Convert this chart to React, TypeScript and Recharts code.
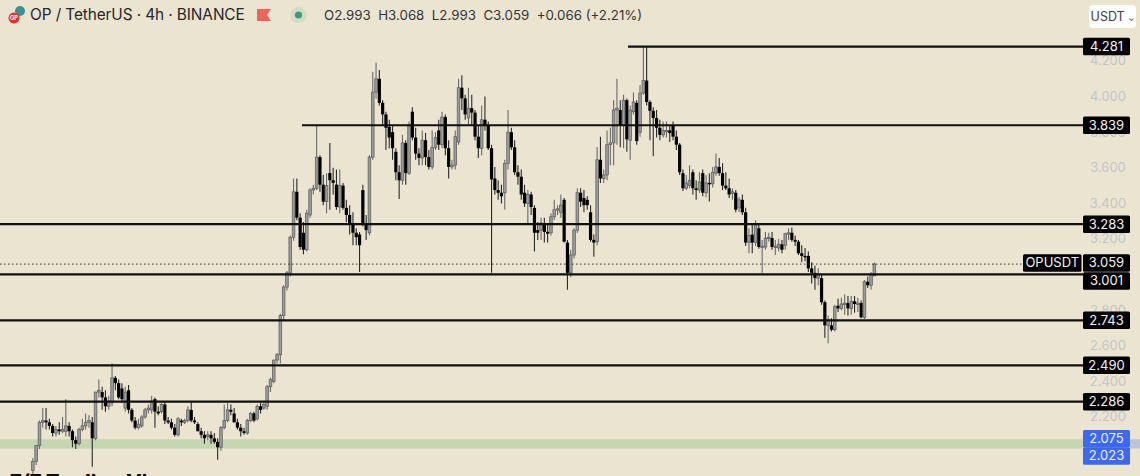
import React from "react";
import { ComposedChart, Bar, XAxis, YAxis, ReferenceLine, ReferenceArea, ReferenceDot } from "recharts";

type Row = [number, number, number, number];

// OHLC candles: [open, high, low, close]
const legBase: Row[] = [
  [1.90,1.97,1.87,1.95],[1.95,2.04,1.93,2.04],[2.04,2.18,2.02,2.17],[2.17,2.25,2.14,2.18],[2.18,2.25,2.13,2.17],
  [2.17,2.19,2.13,2.15],[2.15,2.16,2.09,2.11],[2.11,2.15,2.09,2.13],[2.13,2.17,2.10,2.12],[2.12,2.20,2.11,2.13],
  [2.12,2.30,2.09,2.15],[2.15,2.17,2.09,2.12],[2.12,2.13,2.03,2.07],[2.07,2.09,2.02,2.05],[2.05,2.14,2.04,2.13],
  [2.13,2.19,2.12,2.15],[2.15,2.22,2.13,2.17],[2.17,2.21,2.14,2.18],[2.17,2.20,1.92,2.08],[2.08,2.34,2.07,2.34],
  [2.34,2.41,2.31,2.35],[2.34,2.37,2.24,2.31],[2.31,2.35,2.23,2.26],[2.26,2.32,2.24,2.29],[2.28,2.50,2.26,2.42],
  [2.42,2.43,2.35,2.39],[2.39,2.41,2.30,2.31],[2.36,2.39,2.28,2.30],[2.25,2.37,2.23,2.34],[2.35,2.38,2.22,2.24],
  [2.24,2.25,2.17,2.18],[2.18,2.20,2.13,2.14],[2.14,2.19,2.13,2.16],[2.15,2.21,2.14,2.20],[2.20,2.25,2.19,2.24],
  [2.24,2.27,2.22,2.25],[2.24,2.32,2.22,2.29],[2.30,2.31,2.14,2.23],[2.23,2.26,2.21,2.22],[2.23,2.28,2.22,2.27],
  [2.27,2.29,2.16,2.18],[2.18,2.20,2.16,2.17],[2.17,2.19,2.13,2.14],[2.14,2.16,2.09,2.10],[2.10,2.20,2.09,2.19],
  [2.18,2.19,2.15,2.17],[2.17,2.19,2.16,2.18],[2.18,2.26,2.17,2.24],[2.24,2.29,2.17,2.18],[2.18,2.20,2.16,2.17],
  [2.16,2.17,2.12,2.12],[2.12,2.14,2.08,2.10],[2.10,2.12,2.05,2.08],[2.09,2.12,2.07,2.10],[2.10,2.12,2.05,2.08],
  [2.08,2.11,2.05,2.06],[2.06,2.08,1.96,2.03],[2.03,2.15,2.01,2.14],[2.14,2.27,2.13,2.18],[2.18,2.28,2.17,2.24],
  [2.24,2.27,2.21,2.23],[2.22,2.25,2.17,2.17],[2.17,2.19,2.13,2.14],[2.14,2.16,2.09,2.12],[2.12,2.14,2.10,2.11],
  [2.11,2.19,2.10,2.18],[2.18,2.23,2.17,2.22],[2.22,2.23,2.17,2.18],[2.19,2.27,2.18,2.26],[2.26,2.28,2.22,2.24],
  [2.25,2.29,2.24,2.27],
];
const legRally: Row[] = [
  [2.26,2.38,2.24,2.37],[2.37,2.42,2.34,2.41],[2.40,2.52,2.39,2.52],[2.52,2.56,2.50,2.55],[2.55,2.78,2.50,2.77],
  [2.77,2.94,2.74,2.93],[2.93,3.02,2.91,3.01],[3.01,3.22,2.99,3.21],[3.21,3.54,3.19,3.465],[3.465,3.54,3.305,3.32],
  [3.32,3.345,3.14,3.155],[3.235,3.295,3.115,3.14],[3.14,3.365,3.13,3.345],[3.335,3.485,3.32,3.475],[3.475,3.505,3.45,3.485],
  [3.485,3.84,3.475,3.66],[3.66,3.67,3.465,3.505],[3.505,3.56,3.39,3.41],[3.41,3.57,3.345,3.50],[3.57,3.74,3.365,3.53],
  [3.53,3.60,3.45,3.515],[3.505,3.59,3.365,3.38],[3.38,3.59,3.345,3.50],[3.50,3.515,3.365,3.375],[3.375,3.42,3.295,3.335],
  [3.335,3.39,3.225,3.28],[3.28,3.35,3.165,3.235],[3.235,3.26,3.165,3.21],[3.225,3.24,3.015,3.165],[3.475,3.505,3.27,3.28],
  [3.28,3.335,3.195,3.25],[3.235,3.67,3.22,3.66],[3.66,4.14,3.645,4.025],[4.025,4.19,3.99,4.10],
];
const legRangeOne: Row[] = [
  [4.10,4.15,3.95,3.965],[3.965,3.98,3.84,3.90],[3.90,3.915,3.70,3.825],[3.83,3.87,3.71,3.77],[3.80,3.84,3.645,3.71],
  [3.69,3.71,3.53,3.575],[3.575,3.615,3.425,3.53],[3.53,3.785,3.505,3.74],[3.74,3.755,3.505,3.57],[3.57,3.86,3.56,3.84],
  [3.915,3.94,3.755,3.77],[3.77,3.825,3.645,3.68],[3.68,3.71,3.615,3.655],[3.655,3.81,3.615,3.755],[3.755,3.795,3.615,3.66],
  [3.66,3.70,3.59,3.605],[3.605,3.81,3.59,3.715],[3.715,3.80,3.70,3.77],[3.81,3.87,3.70,3.73],[3.73,3.915,3.71,3.885],
  [3.885,3.90,3.67,3.71],[3.71,3.755,3.54,3.605],[3.605,3.645,3.59,3.615],[3.615,3.81,3.59,3.775],[3.745,4.10,3.73,4.05],
  [4.05,4.12,3.925,3.99],[3.99,4.01,3.87,3.90],[3.88,4.05,3.84,3.935],[3.935,4.01,3.84,3.91],[3.91,3.925,3.755,3.775],
  [3.775,3.84,3.655,3.71],[3.71,3.95,3.67,3.87],[3.87,4.00,3.81,3.84],[3.84,3.86,3.70,3.71],[3.71,3.73,3.01,3.535],
];
const legRangeTwo: Row[] = [
  [3.54,3.605,3.45,3.475],[3.475,3.53,3.42,3.46],[3.46,3.505,3.40,3.44],[3.46,3.645,3.365,3.625],[3.625,3.925,3.59,3.80],
  [3.80,3.825,3.70,3.715],[3.715,3.755,3.56,3.575],[3.575,3.615,3.505,3.55],[3.55,3.59,3.42,3.45],[3.46,3.505,3.38,3.40],
  [3.40,3.475,3.28,3.45],[3.45,3.465,3.335,3.38],[3.375,3.39,3.13,3.235],[3.25,3.295,3.195,3.235],[3.25,3.32,3.195,3.29],
  [3.29,3.32,3.18,3.24],[3.24,3.28,3.18,3.23],[3.235,3.345,3.22,3.325],[3.325,3.42,3.305,3.365],[3.365,3.39,3.335,3.37],
  [3.35,3.45,3.32,3.39],[3.42,3.43,3.18,3.185],[3.18,3.195,2.915,3.01],[3.01,3.14,2.985,3.11],[3.11,3.26,3.09,3.25],
  [3.25,3.485,3.235,3.46],[3.46,3.485,3.38,3.41],[3.43,3.475,3.35,3.39],[3.42,3.44,3.365,3.39],[3.35,3.39,3.185,3.195],
  [3.195,3.225,3.10,3.18],
];
const legPeak: Row[] = [
  [3.185,3.715,3.165,3.645],[3.645,3.775,3.515,3.54],[3.54,3.59,3.515,3.56],[3.56,3.81,3.53,3.73],[3.73,3.825,3.615,3.74],
  [3.74,3.98,3.615,3.925],[3.925,4.10,3.73,3.935],[3.925,3.98,3.715,3.84],[3.84,4.01,3.71,3.98],[3.98,3.99,3.69,3.76],
  [3.755,3.95,3.645,3.925],[3.915,4.025,3.90,3.97],[3.965,3.98,3.73,3.75],[3.80,4.065,3.775,4.02],[4.02,4.284,4.01,4.09],
  [4.09,4.284,3.95,3.97],[3.97,3.98,3.755,3.92],[3.92,3.94,3.665,3.88],[3.88,3.925,3.77,3.825],[3.825,3.87,3.755,3.785],
  [3.785,3.86,3.77,3.81],[3.805,3.86,3.77,3.81],[3.81,3.84,3.745,3.795],[3.84,3.86,3.755,3.775],[3.775,3.81,3.70,3.73],
  [3.73,3.74,3.56,3.575],[3.57,3.59,3.47,3.485],[3.485,3.56,3.475,3.515],[3.50,3.615,3.485,3.53],[3.575,3.59,3.45,3.485],
  [3.485,3.53,3.42,3.475],[3.475,3.575,3.46,3.52],[3.57,3.59,3.44,3.46],[3.46,3.56,3.435,3.515],[3.515,3.57,3.41,3.51],
  [3.51,3.605,3.49,3.575],[3.57,3.68,3.555,3.605],[3.605,3.655,3.555,3.57],[3.57,3.625,3.475,3.50],[3.50,3.575,3.475,3.485],
  [3.485,3.54,3.43,3.45],
];
const legDecline: Row[] = [
  [3.46,3.485,3.42,3.465],[3.46,3.475,3.35,3.365],[3.375,3.435,3.35,3.42],[3.42,3.45,3.335,3.35],[3.35,3.375,3.16,3.18],
  [3.18,3.26,3.12,3.22],[3.225,3.28,3.12,3.18],[3.18,3.305,3.16,3.28],[3.26,3.285,3.145,3.155],[3.155,3.195,3.01,3.16],
  [3.155,3.24,3.14,3.205],[3.205,3.235,3.185,3.21],[3.205,3.24,3.14,3.155],[3.155,3.195,3.11,3.16],[3.15,3.20,3.13,3.17],
  [3.17,3.195,3.12,3.14],[3.165,3.235,3.14,3.23],[3.23,3.26,3.195,3.235],[3.235,3.265,3.185,3.195],[3.195,3.22,3.16,3.185],
  [3.185,3.195,3.11,3.12],[3.12,3.165,3.07,3.105],[3.105,3.15,3.075,3.10],[3.105,3.13,3.015,3.035],[3.035,3.07,2.95,3.01],
  [3.01,3.05,2.915,2.98],[2.98,3.035,2.94,3.00],[2.98,3.00,2.83,2.845],[2.845,2.855,2.645,2.715],[2.715,2.77,2.615,2.745],
  [2.715,2.755,2.68,2.69],[2.69,2.83,2.68,2.82],[2.825,2.865,2.79,2.81],[2.81,2.87,2.80,2.835],[2.835,2.89,2.775,2.84],
  [2.84,2.88,2.77,2.81],[2.81,2.88,2.775,2.85],[2.85,2.88,2.785,2.835],[2.835,2.87,2.79,2.84],[2.84,2.855,2.755,2.76],
  [2.76,2.97,2.75,2.96],[2.96,2.99,2.925,2.94],[2.94,3.015,2.915,3.00],[2.993,3.068,2.993,3.059],
];

const priceTicks = [2.2, 2.4, 2.6, 2.8, 3.0, 3.2, 3.4, 3.6, 3.8, 4.0, 4.2];
const fullLevels = [3.283, 3.001, 2.743, 2.49, 2.286];
const peakLevel = 4.281;
const shelfLevel = 3.839;
const lastPrice = 3.059;
const zoneTop = 2.075;
const zoneBottom = 2.023;

const W = 1140;
const H = 476;
const PRICE_MIN = 1.8685;
const PRICE_MAX = 4.5427;
const FIRST_X = 33;
const STEP = 3.3;
const slot = (px: number) => (px - FIRST_X) / STEP;

const candles = [...legBase, ...legRally, ...legRangeOne, ...legRangeTwo, ...legPeak, ...legDecline].map((r, i) => ({
  i,
  open: r[0],
  high: r[1],
  low: r[2],
  close: r[3],
  range: [r[2], r[1]],
}));

const TAG_LEFT = slot(1083);
const TAG_RIGHT = slot(1130);
const TICK_X = slot(1108);

function Candle(props: any) {
  const { x, y, width, height, payload } = props;
  if (!payload) return null;
  const { open, close, high, low } = payload;
  const cx = x + width / 2;
  const pxPerPrice = height / Math.max(high - low, 1e-6);
  const topP = Math.max(open, close);
  const botP = Math.min(open, close);
  const bodyTop = y + (high - topP) * pxPerPrice;
  const bodyH = Math.max((topP - botP) * pxPerPrice, 1.4);
  const up = close >= open;
  return (
    <g>
      <line x1={cx} x2={cx} y1={y} y2={y + height} stroke={up ? "#6a6a6a" : "#2a2a2a"} strokeWidth={1.1} />
      {up ? (
        <rect x={cx - 1.3} y={bodyTop} width={2.6} height={bodyH} fill="#9c9c9a" stroke="#626262" strokeWidth={0.8} />
      ) : (
        <rect x={cx - 1.6} y={bodyTop} width={3.2} height={bodyH} fill="#000" />
      )}
    </g>
  );
}

function PriceTick(props: any) {
  const { cx, cy, text } = props;
  return (
    <text x={cx} y={cy + 4.5} textAnchor="middle" fill="#c4c5ca" stroke="none" fontSize={13} fontFamily="Inter, Roboto, sans-serif">
      {text}
    </text>
  );
}

function Tag(props: any) {
  const { cy, text, bg, dy, tagLeft, tagRight } = props;
  const h = 17.5;
  const top = cy + (dy || 0) - h / 2;
  const l = tagLeft ?? 1083;
  const r = tagRight ?? 1130;
  return (
    <g>
      <rect x={l} y={top} width={r - l} height={h} rx={1.5} fill={bg} stroke="none" />
      <text x={(l + r) / 2} y={top + h / 2 + 4.4} textAnchor="middle" fill="#f2f2f2" stroke="none" fontSize={13} fontFamily="Inter, Roboto, sans-serif">
        {text}
      </text>
    </g>
  );
}

const levelLine = { stroke: "#101010", strokeWidth: 2.2 };

export default function App() {
  return (
    <div style={{ position: "absolute", left: 0, top: 0, width: W, height: H, background: "#ebe4d1", overflow: "hidden", fontFamily: "Inter, Roboto, sans-serif" }}>
      <ComposedChart width={W} height={H} data={candles} margin={{ top: 0, right: 0, bottom: 0, left: 0 }} barCategoryGap={0}>
        <XAxis dataKey="i" type="number" hide domain={[slot(0), slot(W)]} allowDataOverflow />
        <YAxis hide orientation="right" type="number" domain={[PRICE_MIN, PRICE_MAX]} allowDataOverflow ticks={priceTicks} />
        <ReferenceArea x1={slot(0)} x2={TAG_LEFT} y1={zoneBottom} y2={zoneTop} fill="#c6d6b0" fillOpacity={1} stroke="none" />
        <ReferenceArea x1={TAG_RIGHT} x2={slot(W)} y1={zoneBottom} y2={zoneTop} fill="#bcc4da" fillOpacity={1} stroke="none" />
        <Bar dataKey="range" barSize={3} shape={<Candle />} isAnimationActive={false} />
        {priceTicks.map((v) => (
          <ReferenceDot key={v} x={TICK_X} y={v} shape={<PriceTick text={v.toFixed(3)} />} />
        ))}
        {fullLevels.map((v) => (
          <ReferenceLine key={v} segment={[{ x: slot(0), y: v }, { x: TAG_LEFT, y: v }]} {...levelLine} />
        ))}
        <ReferenceLine segment={[{ x: slot(628), y: peakLevel }, { x: TAG_LEFT, y: peakLevel }]} {...levelLine} />
        <ReferenceLine segment={[{ x: slot(302), y: shelfLevel }, { x: TAG_LEFT, y: shelfLevel }]} {...levelLine} />
        <ReferenceLine segment={[{ x: slot(0), y: lastPrice }, { x: slot(1023), y: lastPrice }]} stroke="#333" strokeWidth={1} strokeDasharray="1.5 2.5" />
        <ReferenceDot x={TAG_LEFT} y={peakLevel} shape={<Tag text="4.281" bg="#000" />} />
        <ReferenceDot x={TAG_LEFT} y={shelfLevel} shape={<Tag text="3.839" bg="#000" />} />
        <ReferenceDot x={TAG_LEFT} y={3.283} shape={<Tag text="3.283" bg="#000" />} />
        <ReferenceDot x={TAG_LEFT} y={lastPrice} shape={<Tag text="3.059" bg="#000" dy={-1} />} />
        <ReferenceDot x={TAG_LEFT} y={lastPrice} shape={<Tag text="OPUSDT" bg="#000" dy={-1} tagLeft={1023} tagRight={1081.5} />} />
        <ReferenceDot x={TAG_LEFT} y={3.001} shape={<Tag text="3.001" bg="#000" dy={6.5} />} />
        <ReferenceDot x={TAG_LEFT} y={2.743} shape={<Tag text="2.743" bg="#000" />} />
        <ReferenceDot x={TAG_LEFT} y={2.49} shape={<Tag text="2.490" bg="#000" />} />
        <ReferenceDot x={TAG_LEFT} y={2.286} shape={<Tag text="2.286" bg="#000" />} />
        <ReferenceDot x={TAG_LEFT} y={zoneTop} shape={<Tag text="2.075" bg="#3d68f5" dy={-0.5} />} />
        <ReferenceDot x={TAG_LEFT} y={zoneBottom} shape={<Tag text="2.023" bg="#3d68f5" dy={7.5} />} />
      </ComposedChart>

      <svg width={28} height={24} style={{ position: "absolute", left: 5, top: 4 }}>
        <circle cx={15} cy={7} r={5} fill="#3e8e96" />
        <circle cx={9} cy={14} r={5.5} fill="#e8322e" />
        <text x={9} y={16} textAnchor="middle" fontSize={5.5} fontWeight={700} fill="#fff">OP</text>
      </svg>
      <div style={{ position: "absolute", left: 30, top: 5, fontSize: 15.4, color: "#26272b", whiteSpace: "nowrap", lineHeight: "20px", letterSpacing: -0.1 }}>
        OP / TetherUS · 4h · BINANCE
      </div>
      <svg width={16} height={14} style={{ position: "absolute", left: 257, top: 9 }}>
        <path d="M0 0H14L10 6L14 12H0Z" fill="#f0625a" />
      </svg>
      <svg width={20} height={20} style={{ position: "absolute", left: 289, top: 5 }}>
        <circle cx={9.5} cy={10} r={8} fill="#d3dcc6" />
        <circle cx={9.5} cy={10} r={3.6} fill="#3c9a83" />
      </svg>
      <div style={{ position: "absolute", left: 324, top: 6, fontSize: 13.3, color: "#33353a", whiteSpace: "pre", lineHeight: "18px" }}>
        O2.993  H3.068  L2.993  C3.059  +0.066 (+2.21%)
      </div>
      <div style={{ position: "absolute", left: 1089, top: 5, width: 47, height: 23, background: "#fff", borderRadius: 4, fontSize: 12.5, color: "#3c3d42", lineHeight: "23px", textAlign: "center", whiteSpace: "nowrap" }}>
        USDT <span style={{ fontSize: 8 }}>⌄</span>
      </div>
      <div style={{ position: "absolute", left: 10, top: 470, fontSize: 20, fontWeight: 800, color: "#0b0b0b", whiteSpace: "nowrap", lineHeight: "24px" }}>
        7/7 Trading View
      </div>
    </div>
  );
}
